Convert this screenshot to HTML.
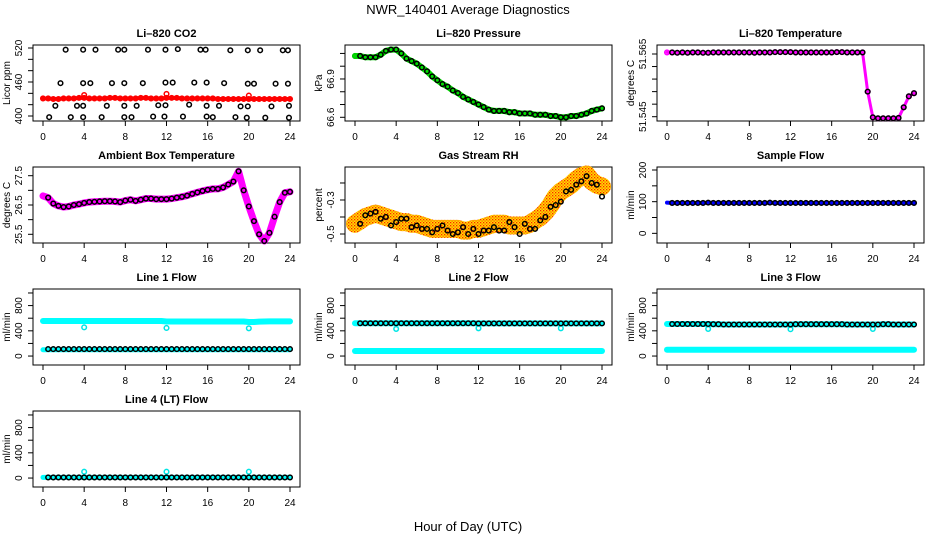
<!DOCTYPE html>
<html><head><meta charset="utf-8"><style>
html,body{margin:0;padding:0;background:#fff;}
svg{display:block;font-family:"Liberation Sans",sans-serif;}
</style></head><body>
<svg id="chart" width="936" height="540" viewBox="0 0 936 540">
<defs>
<pattern id="speckle" width="3" height="3" patternUnits="userSpaceOnUse">
<rect width="3" height="3" fill="#ffe000"/><rect x="0" y="0" width="1.3" height="1.3" fill="#ff2000"/><rect x="1.5" y="1.5" width="1.2" height="1.2" fill="#ff4000"/>
</pattern>
</defs>
<text x="468" y="14" text-anchor="middle" font-size="13">NWR_140401  Average Diagnostics</text>
<text x="468" y="531" text-anchor="middle" font-size="13">Hour of Day (UTC)</text>
</svg>
<script>
const hours = [0,0.5,1,1.5,2,2.5,3,3.5,4,4.5,5,5.5,6,6.5,7,7.5,8,8.5,9,9.5,10,10.5,11,11.5,12,12.5,13,13.5,14,14.5,15,15.5,16,16.5,17,17.5,18,18.5,19,19.5,20,20.5,21,21.5,22,22.5,23,23.5,24];
const xTicks = [0,4,8,12,16,20,24];
// CO2
const co2Red = [431,431,430,430,431,431,431,432,432,431,431,431,431,432,432,431,431,431,431,432,432,431,431,431,432,432,432,431,431,431,431,431,431,431,430,430,430,430,430,430,430,430,430,430,430,430,430,430,430];
const co2RedOutHours = [4,12,20];
const co2RedOut = [437,439,436];
const co2BlackHours = [2.2,3.9,5.1,7.3,7.9,10.2,11.9,13.1,15.3,15.8,18.2,19.9,21.1,23.3,23.8, 1.7,3.9,4.6,6.7,7.9,9.7,11.9,12.6,14.7,15.9,17.6,19.9,20.5,22.6,23.8, 1.2,3.3,3.9,6.2,7.9,9.1,11.2,11.9,14.2,15.9,17.1,19.2,19.9,22.2,23.9, 0.6,2.7,3.9,5.7,7.9,8.6,10.7,11.8,13.6,15.9,16.5,18.7,19.8,21.6,23.9];
const co2Black = [517,517,517,517,517,517,517,518,517,517,516,516,516,516,516, 458,458,458,458,458,458,459,459,459,459,458,457,457,457,457, 418,418,418,418,418,418,419,419,420,418,418,417,417,417,418, 398,398,398,398,398,398,399,399,399,399,398,398,397,397,397];
// Pressure
const pressure = [67.08,67.08,67.07,67.07,67.07,67.09,67.12,67.13,67.13,67.10,67.06,67.04,67.02,66.99,66.96,66.92,66.89,66.86,66.84,66.81,66.79,66.76,66.74,66.72,66.70,66.68,66.66,66.65,66.65,66.65,66.64,66.64,66.63,66.63,66.63,66.62,66.62,66.62,66.61,66.61,66.60,66.60,66.61,66.61,66.62,66.63,66.65,66.66,66.67];
// Li-820 temperature
const licorTemp = [51.5655,51.5655,51.5654,51.5655,51.5654,51.5655,51.5655,51.5654,51.5654,51.5655,51.5655,51.5655,51.5655,51.5655,51.5655,51.5655,51.5655,51.5654,51.5655,51.5655,51.5655,51.5656,51.5656,51.5656,51.5656,51.5655,51.5655,51.5655,51.5655,51.5655,51.5655,51.5655,51.5655,51.5656,51.5656,51.5655,51.5655,51.5655,51.5655,51.5530,51.5448,51.5445,51.5445,51.5445,51.5445,51.5446,51.5480,51.5515,51.5525];
// Ambient
const ambient = [26.81,26.75,26.55,26.47,26.43,26.45,26.50,26.53,26.57,26.60,26.61,26.62,26.63,26.63,26.62,26.60,26.65,26.68,26.64,26.68,26.72,26.72,26.70,26.70,26.70,26.72,26.75,26.78,26.82,26.88,26.93,26.98,27.02,27.05,27.05,27.10,27.20,27.30,27.65,27.00,26.45,25.95,25.50,25.27,25.55,26.10,26.60,26.92,26.95];
// RH
const rhColor = [-0.44,-0.42,-0.40,-0.39,-0.38,-0.39,-0.40,-0.41,-0.42,-0.43,-0.43,-0.44,-0.44,-0.45,-0.46,-0.47,-0.47,-0.47,-0.47,-0.47,-0.47,-0.48,-0.48,-0.47,-0.47,-0.46,-0.45,-0.44,-0.44,-0.44,-0.45,-0.45,-0.45,-0.45,-0.44,-0.42,-0.40,-0.37,-0.33,-0.28,-0.25,-0.23,-0.21,-0.18,-0.16,-0.15,-0.19,-0.21,-0.22];
const rhBlack = [-0.42,-0.44,-0.39,-0.38,-0.37,-0.41,-0.40,-0.45,-0.43,-0.41,-0.41,-0.46,-0.45,-0.47,-0.47,-0.49,-0.47,-0.45,-0.48,-0.50,-0.49,-0.46,-0.50,-0.47,-0.50,-0.48,-0.48,-0.46,-0.48,-0.48,-0.43,-0.46,-0.50,-0.44,-0.47,-0.47,-0.42,-0.40,-0.34,-0.33,-0.31,-0.25,-0.24,-0.21,-0.19,-0.16,-0.20,-0.21,-0.28];
// Sample flow
const sampleFlow = [97,96,96,96,96,96,96,96,97,96,96,96,96,96,96,96,96,96,96,96,97,96,96,96,96,96,96,96,96,96,96,96,96,96,96,96,96,96,96,96,96,96,96,96,96,96,96,96,96];
// Line flows
const line1Cyan = [555,555,555,556,556,556,556,556,556,556,556,556,556,556,556,556,556,556,556,556,556,556,556,556,548,548,548,548,548,548,548,548,548,548,548,548,548,548,548,548,540,540,545,548,550,550,550,550,550];
const line1CyanLow = [100,100,100,100,100,100,100,100,100,100,100,100,100,100,100,100,100,100,100,100,100,100,100,100,100,100,100,100,100,100,100,100,100,100,100,100,100,100,100,100,100,100,100,100,100,100,100,100,100];
const line1Black = [110,110,110,110,110,110,110,110,110,110,110,110,110,110,110,110,110,110,110,110,110,110,110,110,110,110,110,110,110,110,110,110,110,110,110,110,110,110,110,110,110,110,110,110,110,110,110,110,110];
const line2Black = [520,520,520,520,520,520,520,520,520,520,520,520,520,520,520,520,520,520,520,520,520,520,520,520,518,518,518,518,518,518,518,518,518,518,518,518,518,518,518,518,518,518,518,518,518,518,518,518,518];
const line2CyanLow = [80,80,80,80,80,80,80,80,80,80,80,80,80,80,80,80,80,80,80,80,80,80,80,80,80,80,80,80,80,80,80,80,80,80,80,80,80,80,80,80,80,80,80,80,80,80,80,80,80];
const line3Black = [508,508,508,508,508,508,508,508,508,505,505,500,500,500,500,500,500,500,500,500,500,500,500,500,500,505,505,505,505,505,505,505,505,505,505,500,500,500,500,500,500,500,505,505,500,500,500,500,500];
const line3CyanLow = [100,100,100,100,100,100,100,100,100,100,100,100,100,100,100,100,100,100,100,100,100,100,100,100,100,100,100,100,100,100,100,100,100,100,100,100,100,100,100,100,100,100,100,100,100,100,100,100,100];
const line4Black = [10,10,10,10,10,10,10,10,10,10,10,10,10,10,10,10,10,10,10,10,10,10,10,10,10,10,10,10,10,10,10,10,10,10,10,10,10,10,10,10,10,10,10,10,10,10,10,10,10];
const flowOutHours = [4,12,20];
const line1Out = [455,445,440];
const line2Out = [430,440,440];
const line3Out = [430,425,430];
const line4Out = [100,100,100];

const svg = document.getElementById('chart');
const NS = 'http://www.w3.org/2000/svg';
function mk(tag, attrs, parent){ const e=document.createElementNS(NS,tag); for(const k in attrs) e.setAttribute(k,attrs[k]); (parent||svg).appendChild(e); return e; }

function panel(col,row,name,title,ylab,lo,hi,yticks,ylabels){
  const L = 33+312*col, R = L+267, T = 45+122*row, B = T+76;
  const g = mk('g',{});
  
  
  const xs = h => L + 10 + h*247/24;
  const ys = v => B - (v-lo)/(hi-lo)*76;
  const box = mk('rect',{x:L,y:T,width:267,height:76,fill:'none',stroke:'#000','stroke-width':1},g);
  
  
  const t = mk('text',{x:(L+R)/2,y:T-8,'text-anchor':'middle','font-size':11,'font-weight':'bold'},g);
  t.textContent = title;
  
  
  xTicks.forEach(h=>{
    mk('line',{x1:xs(h),x2:xs(h),y1:B,y2:B+5,stroke:'#000'},g);
    const tl = mk('text',{x:xs(h),y:B+19,'text-anchor':'middle','font-size':10},g);
    tl.textContent = h;
    
    
  });
  yticks.forEach(v=>{ mk('line',{x1:L-5,x2:L,y1:ys(v),y2:ys(v),stroke:'#000'},g); });
  ylabels.forEach(v=>{
    const yl = mk('text',{x:0,y:0,'text-anchor':'middle','font-size':10,transform:`translate(${L-11},${ys(v)}) rotate(-90)`},g);
    yl.textContent = v;
    
    
  });
  const at = mk('text',{x:0,y:0,'text-anchor':'middle','font-size':10,transform:`translate(${L-23},${(T+B)/2}) rotate(-90)`},g);
  at.textContent = ylab;
  
  
  return {g,xs,ys};
}
function band(p,hs,vals,color,w,name){
  const pl = mk('polyline',{points:hs.map((h,i)=>p.xs(h)+','+p.ys(vals[i])).join(' '),fill:'none',stroke:color,'stroke-width':w,'stroke-linejoin':'round','stroke-linecap':'round'},p.g);
  
  
}
function pts(p,hs,vals,color,name,start){
  for(let i=(start||0);i<vals.length;i++){
    const c = mk('circle',{cx:p.xs(hs[i]),cy:p.ys(vals[i]),r:2.3,fill:'none',stroke:color,'stroke-width':1.5},p.g);
    
    
  }
}

// Row 1
let p = panel(0,0,'co2','Li\u2013820 CO2','Licor ppm',391.2,525.3,[400,420,440,460,480,500,520],[400,460,520]);
band(p,hours,co2Red,'#ff0000',4,'co2-red-band'); pts(p,hours,co2Red,'#ff0000','co2-red-point');
pts(p,co2RedOutHours,co2RedOut,'#ff0000','co2-red-outlier');
pts(p,co2BlackHours,co2Black,'#000','co2-black-point');

p = panel(1,0,'pressure','Li\u2013820 Pressure','kPa',66.571,67.166,[66.6,66.7,66.8,66.9,67.0,67.1],[66.6,66.9]);
band(p,hours,pressure,'#00dd00',6,'pressure-green-band'); pts(p,hours,pressure,'#00cc00','pressure-green-point');
pts(p,hours,pressure,'#000','pressure-black-point',1);

p = panel(2,0,'licor-temp','Li\u2013820 Temperature','degrees C',51.54363,51.56787,[51.545,51.549,51.553,51.557,51.561,51.565],[51.545,51.565]);
band(p,hours,licorTemp,'#ff00ff',3,'licor-temp-band'); pts(p,hours,licorTemp,'#ff00ff','licor-temp-magenta-point');
pts(p,hours,licorTemp,'#000','licor-temp-black-point',1);

// Row 2
p = panel(0,1,'ambient','Ambient Box Temperature','degrees C',25.203,27.797,[25.5,26,26.5,27,27.5],[25.5,26.5,27.5]);
band(p,hours,ambient,'#ff00ff',7,'ambient-magenta-band'); pts(p,hours,ambient,'#ff00ff','ambient-magenta-point');
pts(p,hours,ambient,'#000','ambient-black-point',1);

p = panel(1,1,'rh','Gas Stream RH','percent',-0.553,-0.106,[-0.5,-0.4,-0.3,-0.2],[-0.5,-0.3]);
band(p,hours,rhColor,'url(#speckle)',18,'rh-speckle-band');
pts(p,hours,rhBlack,'#000','rh-black-point',1);

p = panel(2,1,'sample-flow','Sample Flow','ml/min',-30.5,209.5,[0,50,100,150,200],[0,100,200]);
band(p,hours,sampleFlow,'#0000ff',4,'sample-flow-blue-band'); pts(p,hours,sampleFlow,'#000','sample-flow-black-point',1);

// Row 3 & 4
const fT=[0,200,400,600,800,1000], fL=[0,400,800];
p = panel(0,2,'line1','Line 1 Flow','ml/min',-142,1063,fT,fL);
band(p,hours,line1Cyan,'#00ffff',6,'line1-cyan-band'); band(p,hours,line1CyanLow,'#00ffff',5,'line1-cyan-low-band');
pts(p,flowOutHours,line1Out,'#00e5e5','line1-cyan-outlier');
pts(p,hours,line1Black,'#000','line1-black-point',1);

p = panel(1,2,'line2','Line 2 Flow','ml/min',-142,1063,fT,fL);
band(p,hours,line2Black,'#00ffff',6,'line2-cyan-band'); band(p,hours,line2CyanLow,'#00ffff',6,'line2-cyan-low-band');
pts(p,flowOutHours,line2Out,'#00e5e5','line2-cyan-outlier');
pts(p,hours,line2Black,'#000','line2-black-point',1);

p = panel(2,2,'line3','Line 3 Flow','ml/min',-142,1063,fT,fL);
band(p,hours,line3Black,'#00ffff',6,'line3-cyan-band'); band(p,hours,line3CyanLow,'#00ffff',6,'line3-cyan-low-band');
pts(p,flowOutHours,line3Out,'#00e5e5','line3-cyan-outlier');
pts(p,hours,line3Black,'#000','line3-black-point',1);

p = panel(0,3,'line4','Line 4 (LT) Flow','ml/min',-142,1063,fT,fL);
band(p,hours,line4Black,'#00ffff',5,'line4-cyan-band');
pts(p,flowOutHours,line4Out,'#00e5e5','line4-cyan-outlier');
pts(p,hours,line4Black,'#000','line4-black-point',1);
</script>
</body></html>
